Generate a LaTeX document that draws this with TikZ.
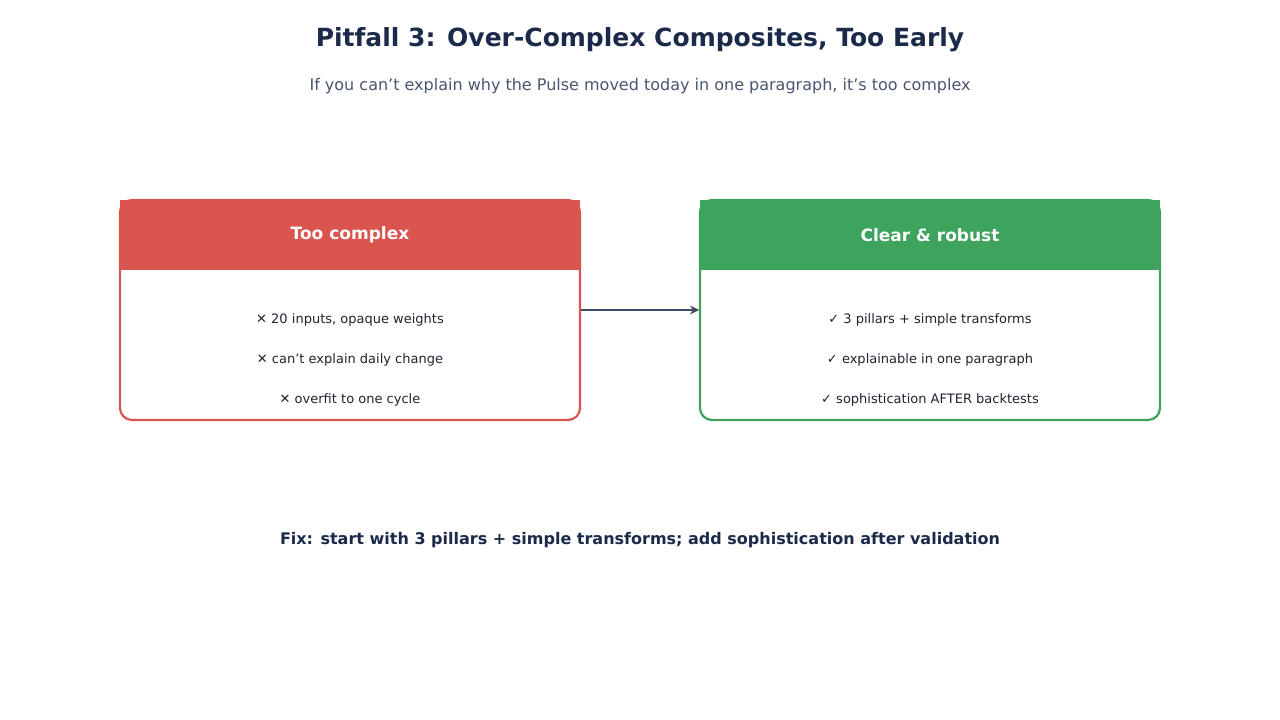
\documentclass[tikz,border=0pt]{standalone}
\usepackage{fontspec}
\setmainfont{DejaVu Sans}
\usetikzlibrary{arrows.meta}
\definecolor{cred}{HTML}{DB5550}
\definecolor{cgreen}{HTML}{3DA35D}
\definecolor{ctitle}{HTML}{1B2A4A}
\definecolor{csub}{HTML}{4A5670}
\definecolor{carrow}{HTML}{3F4B63}
\definecolor{ctext}{HTML}{1E2430}
\tikzset{
  item/.style={font=\fontsize{13}{15}\selectfont, text=ctext},
  head/.style={font=\bfseries\fontsize{17}{20}\selectfont, text=white},
}
\begin{document}
\begin{tikzpicture}[x=1pt,y=-1pt]
\useasboundingbox[fill=white] (0,0) rectangle (1280,720);
\node[font=\bfseries\fontsize{25}{30}\selectfont, text=ctitle] (title) at (640,40) {Pitfall 3: Over-Complex Composites, Too Early};
\node[font=\fontsize{16}{19}\selectfont, text=csub] (sub) at (640,86) {If you can't explain why the Pulse moved today in one paragraph, it's too complex};
% left box
\fill[cred] (120,200) rectangle (580,270);
\draw[cred, line width=2.2pt, rounded corners=12] (120,200) rectangle (580,420);
\node (L) at (350,310) {};
\node[head] (lh) at (350,235) {Too complex};
\node[item] (l1) at (350,320) {✕ 20 inputs, opaque weights};
\node[item] (l2) at (350,360) {✕ can't explain daily change};
\node[item] (l3) at (350,400) {✕ overfit to one cycle};
% right box
\fill[cgreen] (700,200) rectangle (1160,270);
\draw[cgreen, line width=2.2pt, rounded corners=12] (700,200) rectangle (1160,420);
\node[head] (rh) at (930,235) {Clear \& robust};
\node[item] (r1) at (930,320) {✓ 3 pillars + simple transforms};
\node[item] (r2) at (930,360) {✓ explainable in one paragraph};
\node[item] (r3) at (930,400) {✓ sophistication AFTER backtests};
\coordinate (a1) at (581,310);
\coordinate (a2) at (699,310);
\draw[carrow, line width=2.5pt, -{Stealth[length=9pt,width=9pt]}] (a1) -- (a2);
\node[font=\bfseries\fontsize{16}{19}\selectfont, text=ctitle] (fix) at (640,540) {Fix: start with 3 pillars + simple transforms; add sophistication after validation};
\end{tikzpicture}
\end{document}
